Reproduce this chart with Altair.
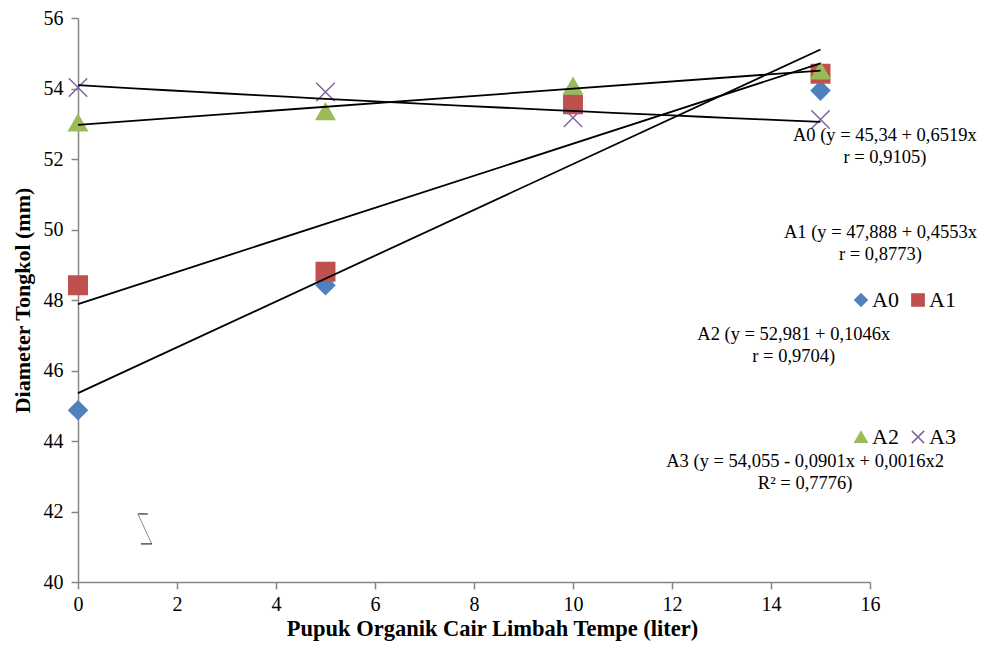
import altair as alt
import pandas as pd

# ---- data ----
x_vals = [0, 5, 10, 15]
series_names = ["A0", "A1", "A2", "A3"]
A0 = [44.87, 48.42, 53.70, 53.94]
A1 = [48.42, 48.80, 53.55, 54.42]
A2 = [53.03, 53.35, 54.07, 54.50]
A3 = [54.03, 53.90, 53.17, 53.12]
series_colors = ["#4F81BD", "#C0504D", "#9BBB59", "#8064A2"]
cross_path = "M-1,-1L1,1M-1,1L1,-1"
series_shapes = ["diamond", "square", "triangle-up", cross_path]

ann_line1 = ["A0 (y = 45,34 + 0,6519x", "A1 (y = 47,888 + 0,4553x",
             "A2 (y = 52,981 + 0,1046x", "A3 (y = 54,055 - 0,0901x + 0,0016x2"]
ann_line2 = ["r = 0,9105)", "r = 0,8773)", "r = 0,9704)", "R² = 0,7776)"]
ann_x = [16.30, 16.21, 14.46, 14.69]
ann_y = [52.69, 49.92, 47.03, 43.43]

x_ticks = [0, 2, 4, 6, 8, 10, 12, 14, 16]
y_ticks = [40, 42, 44, 46, 48, 50, 52, 54, 56]

# small stray "break" glyph near the lower left
brk_x1 = [1.21, 1.21, 1.27]
brk_x2 = [1.41, 1.49, 1.49]
brk_y1 = [41.93, 41.93, 41.08]
brk_y2 = [41.93, 41.08, 41.08]
brk_col = ["#000000", "#8c8c8c", "#000000"]

FONT = "Liberation Serif"

rows = []
for name, vals in zip(series_names, [A0, A1, A2, A3]):
    for xv, yv in zip(x_vals, vals):
        rows.append({"series": name, "x": xv, "y": yv})
df = pd.DataFrame(rows)

ann = pd.DataFrame({"l1": ann_line1, "l2": ann_line2, "x": ann_x, "y": ann_y})
brk = pd.DataFrame({"x": brk_x1, "x2": brk_x2, "y": brk_y1, "y2": brk_y2, "c": brk_col})

X = alt.X("x:Q", title="Pupuk Organik Cair Limbah Tempe (liter)",
          scale=alt.Scale(domain=[0, 16], nice=False, zero=False),
          axis=alt.Axis(values=x_ticks, grid=False, labelPadding=5, titlePadding=3,
                        titleFontSize=22.5, titleX=414, titleAlign="center"))
Y = alt.Y("y:Q", title="Diameter Tongkol (mm)",
          scale=alt.Scale(domain=[40, 56], nice=False, zero=False),
          axis=alt.Axis(values=y_ticks, grid=False, labelPadding=8, titlePadding=9,
                        titleFontSize=22))


def point_layer(names, lx, ly):
    idx = [series_names.index(n) for n in names]
    cols = [series_colors[i] for i in idx]
    shps = [series_shapes[i] for i in idx]
    leg = alt.Legend(orient="none", legendX=lx, legendY=ly, direction="horizontal",
                     title=None, labelFont=FONT, labelFontSize=22, labelColor="black",
                     symbolSize=150, symbolStrokeWidth=1.5, labelOffset=0,
                     columnPadding=8, padding=0)
    return alt.Chart(df).transform_filter(
        alt.FieldOneOfPredicate(field="series", oneOf=names)
    ).mark_point(filled=True, size=340, strokeWidth=1.5, opacity=1).encode(
        x=X, y=Y,
        color=alt.Color("series:N", scale=alt.Scale(domain=names, range=cols), legend=leg),
        stroke=alt.Stroke("series:N", scale=alt.Scale(domain=names, range=cols), legend=leg),
        shape=alt.Shape("series:N", scale=alt.Scale(domain=names, range=shps), legend=leg),
    )


pts1 = point_layer(["A0", "A1"], 772, 271)
pts2 = point_layer(["A2", "A3"], 772, 408)

lin = alt.Chart(df).transform_filter(
    alt.FieldOneOfPredicate(field="series", oneOf=["A0", "A1", "A2"])
).transform_regression("x", "y", groupby=["series"], method="linear").mark_line(
    color="black", strokeWidth=1.8
).encode(x=X, y=Y, detail="series:N")

poly = alt.Chart(df).transform_filter(
    alt.FieldEqualPredicate(field="series", equal="A3")
).transform_regression("x", "y", groupby=["series"], method="poly", order=2).mark_line(
    color="black", strokeWidth=1.8
).encode(x=X, y=Y, detail="series:N")

txt1 = alt.Chart(ann).mark_text(font=FONT, fontSize=18.5, align="center", baseline="middle",
                                color="black").encode(x=X, y=Y, text="l1:N")
txt2 = alt.Chart(ann).mark_text(font=FONT, fontSize=18.5, align="center", baseline="middle",
                                color="black", dy=22).encode(x=X, y=Y, text="l2:N")

brk_layer = alt.Chart(brk).mark_rule(strokeWidth=1).encode(
    x=X, y=Y, x2="x2:Q", y2="y2:Q", color=alt.Color("c:N", scale=None, legend=None)
)

chart = alt.layer(pts1, pts2, lin, poly, txt1, txt2, brk_layer).resolve_scale(
    color="independent", stroke="independent", shape="independent"
).properties(
    width=792, height=564,
    autosize=alt.AutoSizeParams(type="none"),
    padding={"left": 70, "top": 10, "right": 108, "bottom": 62},
    background="white",
).configure_axis(
    domainColor="#868686", tickColor="#868686", domainWidth=1.5, tickWidth=1.5, tickSize=7,
    labelFont=FONT, labelFontSize=20, labelColor="black", labelFlush=False, labelOverlap=False,
    titleFont=FONT, titleFontWeight="bold", titleColor="black",
).configure_view(stroke=None)

chart.save("out.html", embed_options={"renderer": "svg", "actions": False})
